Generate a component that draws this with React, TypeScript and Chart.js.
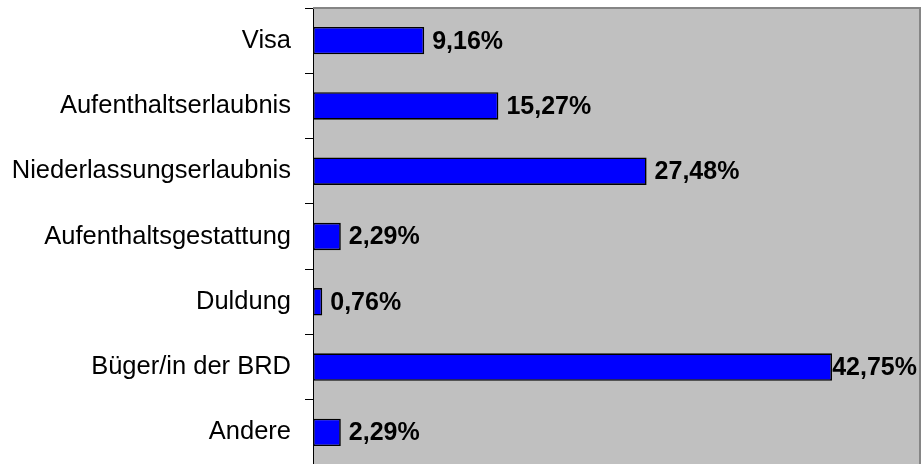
import { useEffect, useRef } from "react";
import { Chart, registerables } from "chart.js";

Chart.register(...registerables);

const categories = [
  "Visa",
  "Aufenthaltserlaubnis",
  "Niederlassungserlaubnis",
  "Aufenthaltsgestattung",
  "Duldung",
  "Büger/in der BRD",
  "Andere",
];
const shares = [9.16, 15.27, 27.48, 2.29, 0.76, 42.75, 2.29];
const axisMin = 0;
const axisMax = 50;

const FONT = '"Liberation Sans", Arial, Helvetica, sans-serif';

const plotBackground = {
  id: "plotBackground",
  beforeDraw(chart: any) {
    const { ctx, chartArea: a } = chart;
    ctx.save();
    ctx.fillStyle = "#c0c0c0";
    ctx.fillRect(a.left, a.top, a.right - a.left, a.bottom - a.top);
    ctx.restore();
  },
  afterDatasetsDraw(chart: any) {
    const { ctx, chartArea: a } = chart;
    ctx.save();
    ctx.strokeStyle = "#858585";
    ctx.lineWidth = 2;
    ctx.beginPath();
    ctx.moveTo(a.left, a.top);
    ctx.lineTo(a.right, a.top);
    ctx.lineTo(a.right, a.bottom);
    ctx.stroke();
    ctx.restore();
  },
};

const valueLabels = {
  id: "valueLabels",
  afterDatasetsDraw(chart: any) {
    const { ctx, chartArea: a } = chart;
    const meta = chart.getDatasetMeta(0);
    const data = chart.data.datasets[0].data as number[];
    ctx.save();
    ctx.font = `bold 25px ${FONT}`;
    ctx.fillStyle = "#000";
    ctx.textBaseline = "middle";
    ctx.textAlign = "left";
    meta.data.forEach((bar: any, i: number) => {
      const text = data[i].toFixed(2).replace(".", ",") + "%";
      const w = ctx.measureText(text).width;
      const x = Math.min(bar.x + 8, a.right - w - 3);
      ctx.fillText(text, x, bar.y + 1);
    });
    ctx.restore();
  },
};

export default function App() {
  const ref = useRef<HTMLCanvasElement>(null);

  useEffect(() => {
    if (!ref.current) return;
    const chart = new Chart(ref.current, {
      type: "bar",
      data: {
        labels: categories,
        datasets: [
          {
            data: shares,
            backgroundColor: "#0000ff",
            borderColor: "#000000",
            borderWidth: 1.6,
            borderSkipped: false,
            categoryPercentage: 1,
            barPercentage: 0.42,
          },
        ],
      },
      options: {
        indexAxis: "y",
        animation: false,
        responsive: true,
        maintainAspectRatio: false,
        layout: { padding: { top: 8, right: 2, bottom: 5, left: 0 } },
        plugins: {
          legend: { display: false },
          tooltip: { enabled: false },
        },
        scales: {
          x: {
            display: false,
            min: axisMin,
            max: axisMax,
          },
          y: {
            afterFit: (scale: any) => {
              scale.width = 313;
              scale.paddingTop = 0;
              scale.paddingBottom = 0;
            },
            ticks: {
              color: "#000",
              padding: 14,
              font: { family: FONT, size: 25.5 },
            },
            grid: {
              drawOnChartArea: false,
              tickLength: 8,
              color: "#000",
              lineWidth: 1,
            },
            border: { display: true, color: "#000", width: 1 },
          },
        },
      },
      plugins: [plotBackground, valueLabels],
    });
    return () => chart.destroy();
  }, []);

  return (
    <div
      style={{
        position: "fixed",
        left: 0,
        top: 0,
        width: 922,
        height: 464,
        overflow: "hidden",
        background: "#fff",
      }}
    >
      <div style={{ position: "relative", width: 922, height: 470 }}>
        <canvas ref={ref} />
      </div>
    </div>
  );
}
